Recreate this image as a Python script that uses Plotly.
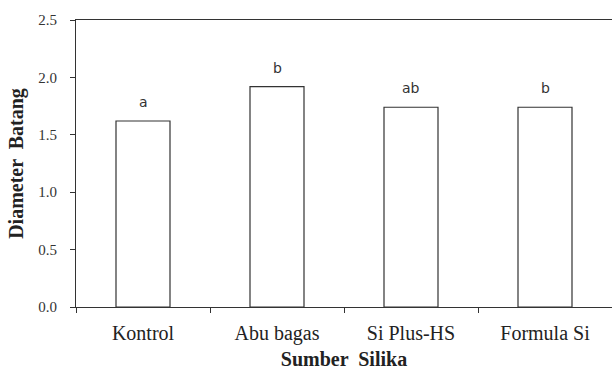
import plotly.graph_objects as go

categories = ["Kontrol", "Abu bagas", "Si Plus-HS", "Formula Si"]
values = [1.62, 1.92, 1.74, 1.74]
letters = ["a", "b", "ab", "b"]
y_ticks = [0.0, 0.5, 1.0, 1.5, 2.0, 2.5]
y_tick_labels = ["0.0", "0.5", "1.0", "1.5", "2.0", "2.5"]

serif = "Liberation Serif"
line_col = "#333333"

fig = go.Figure()
fig.add_trace(go.Bar(
    x=categories, y=values, width=0.403,
    marker=dict(color="white", line=dict(color=line_col, width=1.2)),
    showlegend=False, hoverinfo="skip",
))

for c, v, t in zip(categories, values, letters):
    fig.add_annotation(x=c, y=v, text=t, showarrow=False, yanchor="bottom",
                       yshift=9, font=dict(family="DejaVu Sans", size=14, color="#333333"))

fig.update_layout(
    width=612, height=370,
    margin=dict(l=76, r=0, t=20, b=63),
    plot_bgcolor="white", paper_bgcolor="white",
    xaxis=dict(
        automargin=False,
        showline=True, linecolor=line_col, linewidth=1.2, mirror=True,
        ticks="outside", ticklen=5, tickcolor=line_col, tickson="boundaries",
        tickfont=dict(family=serif, size=20, color="#222222"),
        ticklabelstandoff=8,
        title=dict(text="<b>Sumber  Silika</b>", font=dict(family=serif, size=20, color="#222222"), standoff=12),
        showgrid=False, zeroline=False,
    ),
    yaxis=dict(
        automargin=False,
        range=[0, 2.5], tickvals=y_ticks, ticktext=y_tick_labels,
        showline=True, linecolor=line_col, linewidth=1.2,
        ticks="outside", ticklen=5, tickcolor=line_col,
        tickfont=dict(family=serif, size=15, color="#333333"),
        ticklabelstandoff=10,
        title=dict(text="<b>Diameter  Batang</b>", font=dict(family=serif, size=20, color="#222222"), standoff=9),
        showgrid=False, zeroline=False,
    ),
)

fig.write_html("out.html", config={"displayModeBar": False},
               post_script="document.body.style.margin='0';document.body.style.overflow='hidden';")
